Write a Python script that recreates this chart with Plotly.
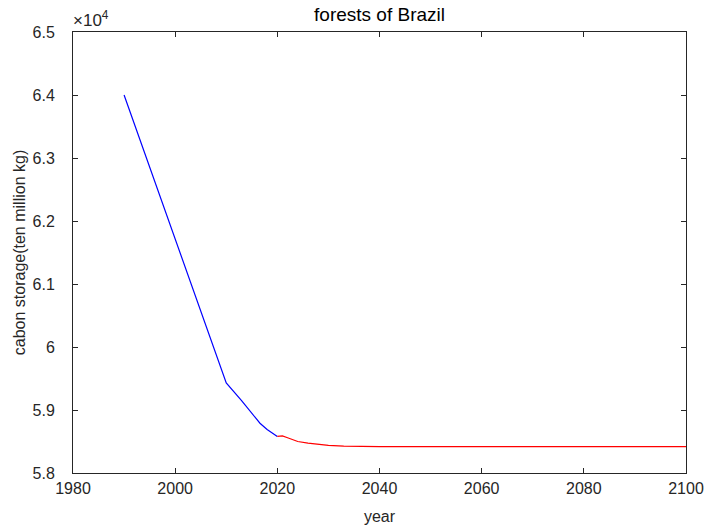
import plotly.graph_objects as go

hist_years = [1990, 2000, 2010, 2013, 2016.6, 2018, 2020]
hist_values = [64000, 61720, 59430, 59150, 58790, 58690, 58580]

proj_years = [2020, 2021, 2022, 2024, 2026, 2028, 2030, 2033, 2036, 2040, 2060, 2080, 2100]
proj_values = [58580, 58590, 58560, 58500, 58475, 58455, 58440, 58425, 58420, 58418, 58418, 58418, 58418]

y_tick_vals = [58000, 59000, 60000, 61000, 62000, 63000, 64000, 65000]
y_tick_text = ["5.8", "5.9", "6", "6.1", "6.2", "6.3", "6.4", "6.5"]
x_tick_vals = [1980, 2000, 2020, 2040, 2060, 2080, 2100]

axis_color = "#262626"
font_family = "Liberation Sans, Arial, sans-serif"

fig = go.Figure()
fig.add_trace(go.Scatter(x=hist_years, y=hist_values, mode="lines",
                         line=dict(color="#0000ff", width=1.2), showlegend=False))
fig.add_trace(go.Scatter(x=proj_years, y=proj_values, mode="lines",
                         line=dict(color="#ff0000", width=1.2), showlegend=False))

axis_common = dict(showgrid=False, zeroline=False, showline=True, linecolor=axis_color,
                   linewidth=1, mirror="ticks", ticks="inside", ticklen=5,
                   tickcolor=axis_color, tickwidth=1, automargin=False,
                   tickfont=dict(family=font_family, size=16, color=axis_color))

fig.update_layout(
    width=708, height=530,
    margin=dict(l=73, r=22, t=32, b=57),
    paper_bgcolor="white", plot_bgcolor="white",
    font=dict(family=font_family, size=16, color=axis_color),
    title=dict(text="forests of Brazil", x=(73 + 686) / 2 / 708, xanchor="center",
               y=1 - 14 / 530, yanchor="middle",
               font=dict(family=font_family, size=19, color="#000000")),
    xaxis=dict(range=[1980, 2100], tickvals=x_tick_vals, ticklabelstandoff=1,
               title=dict(text="year", standoff=14,
                          font=dict(family=font_family, size=16, color=axis_color)),
               **axis_common),
    yaxis=dict(range=[58000, 65000], tickvals=y_tick_vals, ticktext=y_tick_text,
               ticklabelstandoff=14,
               title=dict(text="cabon storage(ten million kg)", standoff=2,
                          font=dict(family=font_family, size=16, color=axis_color)),
               **axis_common),
    annotations=[dict(text="×10<sup>4</sup>", xref="paper", yref="paper", x=0, y=1,
                      xanchor="left", yanchor="bottom", showarrow=False,
                      font=dict(family=font_family, size=17, color=axis_color),
                      xshift=-2, yshift=0)],
)

fig.write_html("out.html")
